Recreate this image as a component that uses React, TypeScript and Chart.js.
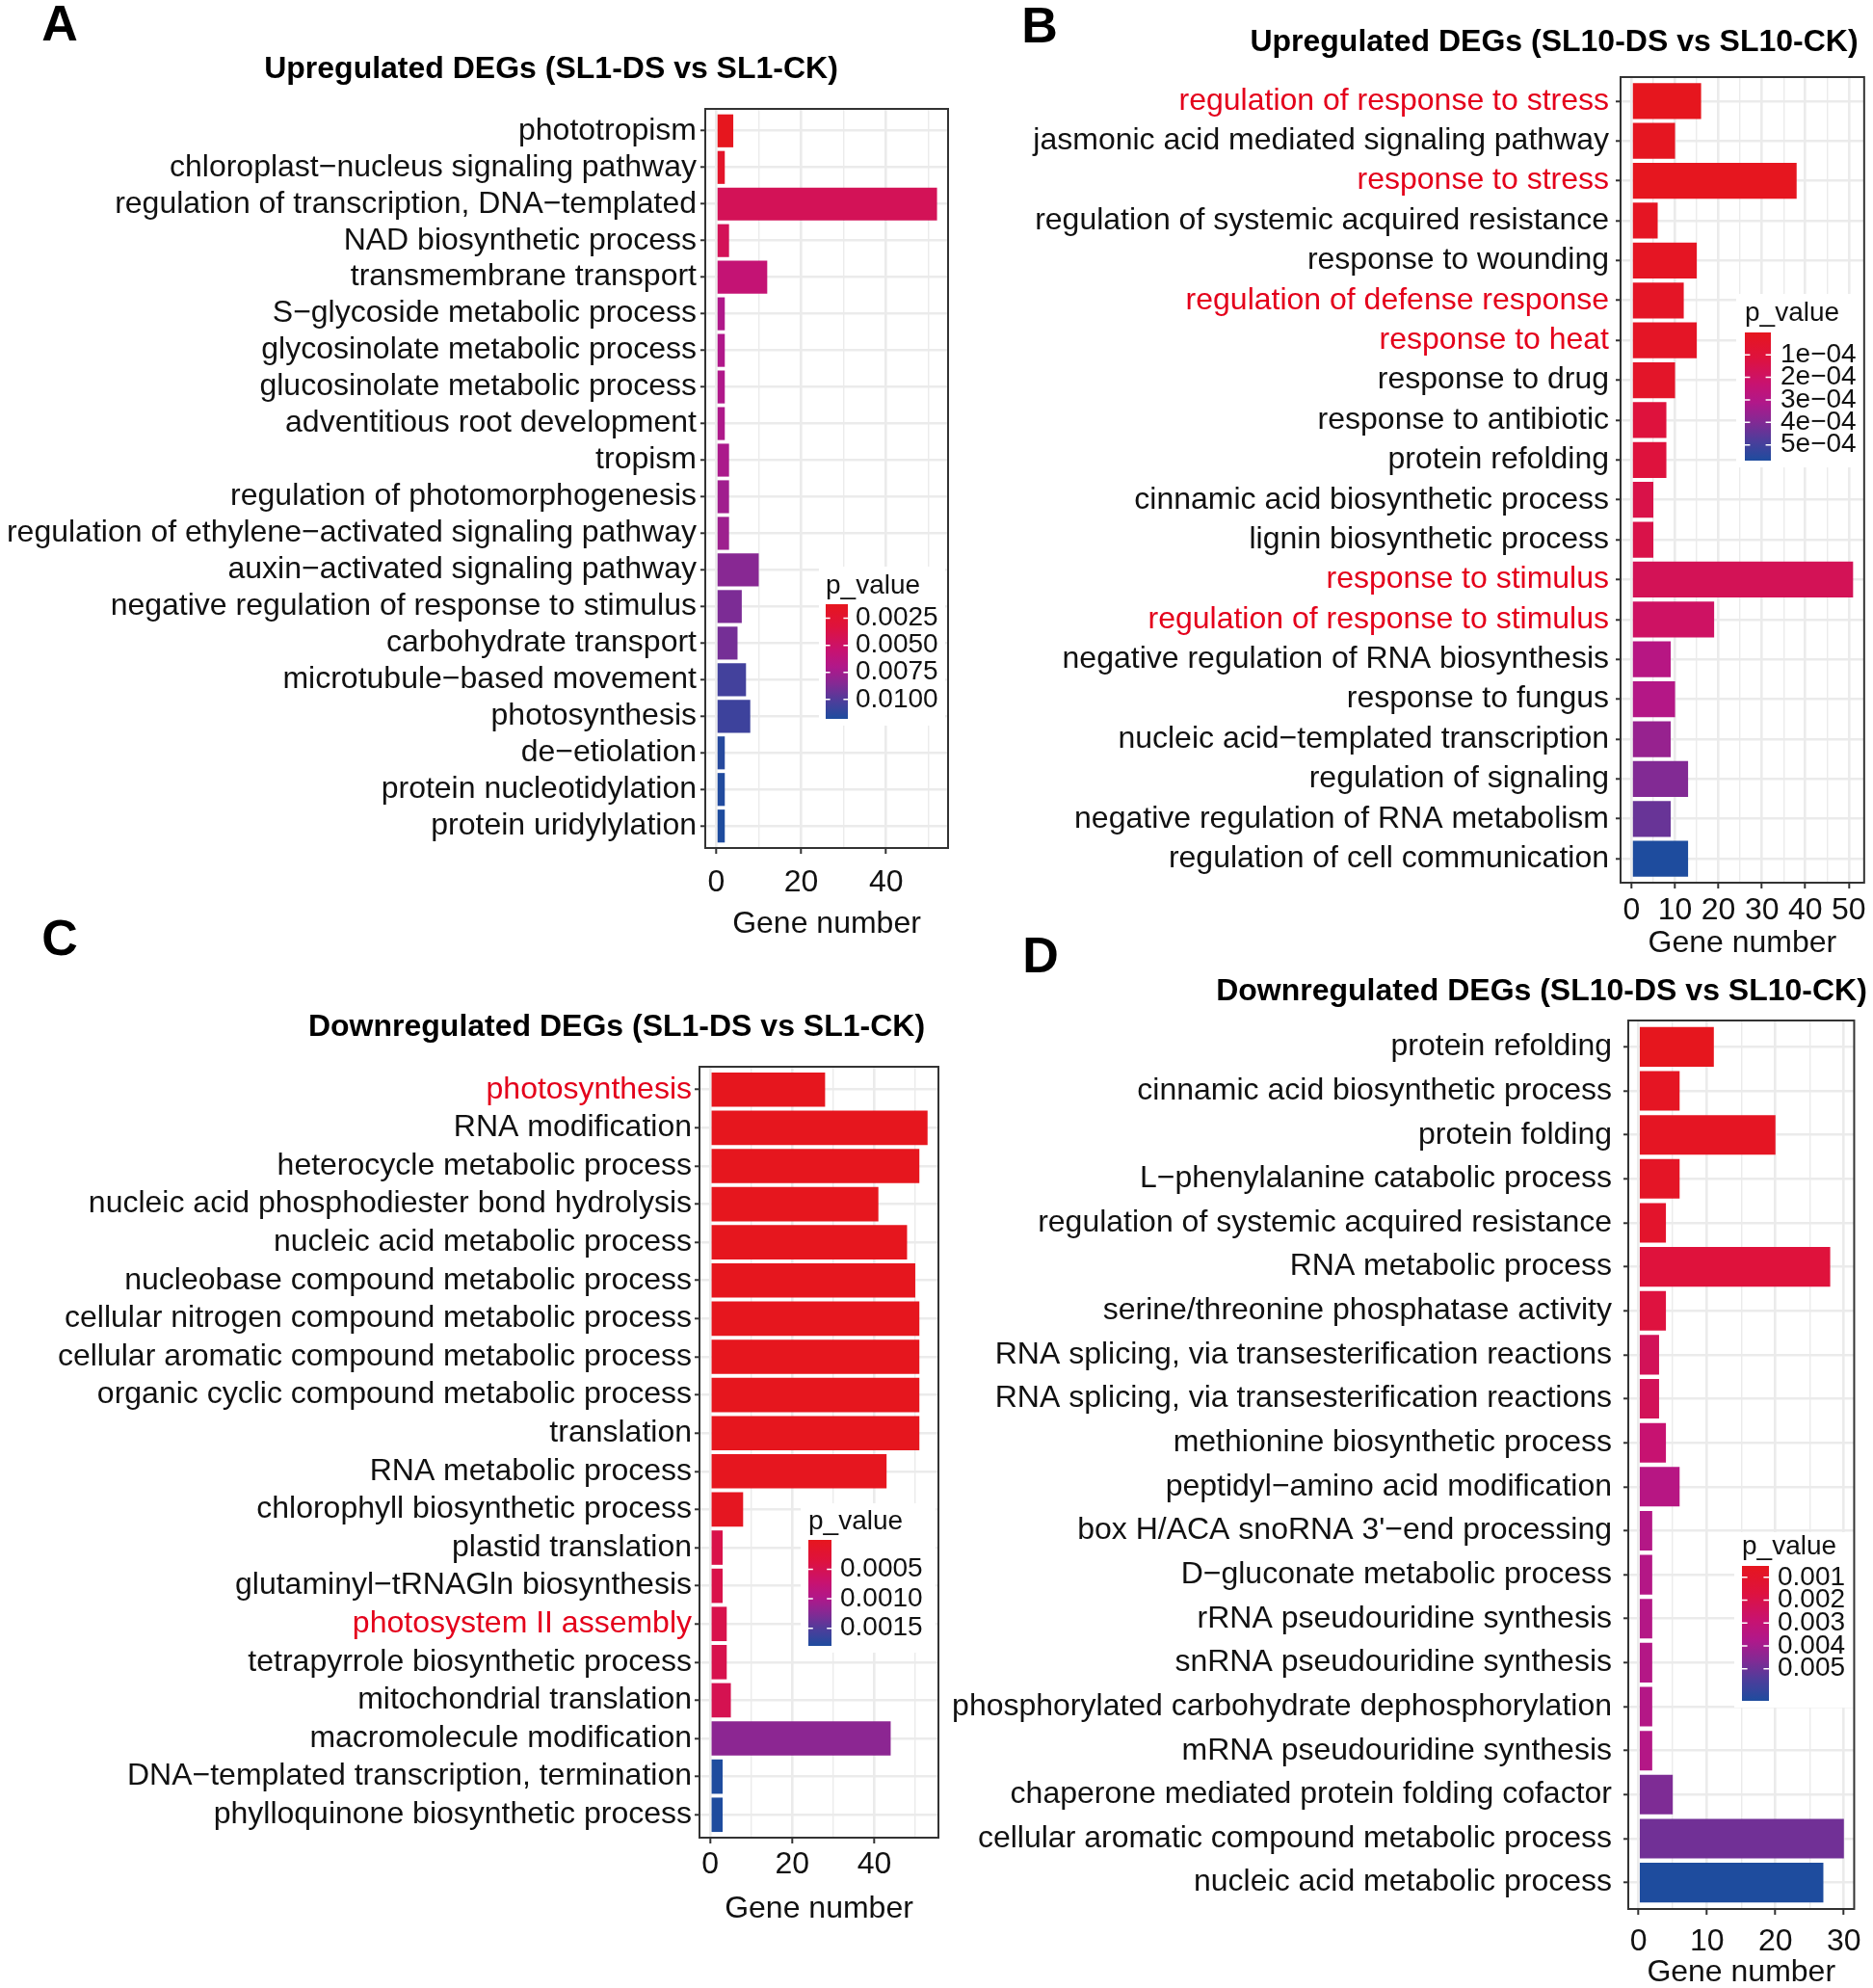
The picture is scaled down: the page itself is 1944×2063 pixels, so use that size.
import React, { useEffect, useRef } from 'react';
import { Chart, registerables } from 'chart.js';

Chart.register(...registerables);

const FONT = "'Liberation Sans', Arial, Helvetica, sans-serif";
const INK = '#111111';
const RED_TEXT = '#E4001B';
const GRID = '#EBEBEB';
const FRAME = '#333333';

// colour ramp used for p_value (low -> high)
const rampStops: [number, number[]][] = [
  [0, [230, 22, 30]],
  [0.2, [222, 18, 62]],
  [0.4, [200, 18, 112]],
  [0.55, [176, 24, 138]],
  [0.7, [130, 42, 148]],
  [0.85, [75, 62, 155]],
  [1, [30, 76, 158]],
];

// ---------------- Panel A ----------------
const titleA = 'Upregulated DEGs (SL1-DS vs SL1-CK)';
const termsA = [
  'phototropism',
  'chloroplast\u2212nucleus signaling pathway',
  'regulation of transcription, DNA\u2212templated',
  'NAD biosynthetic process',
  'transmembrane transport',
  'S\u2212glycoside metabolic process',
  'glycosinolate metabolic process',
  'glucosinolate metabolic process',
  'adventitious root development',
  'tropism',
  'regulation of photomorphogenesis',
  'regulation of ethylene\u2212activated signaling pathway',
  'auxin\u2212activated signaling pathway',
  'negative regulation of response to stimulus',
  'carbohydrate transport',
  'microtubule\u2212based movement',
  'photosynthesis',
  'de\u2212etiolation',
  'protein nucleotidylation',
  'protein uridylylation',
];
const countsA = [4, 2, 52, 3, 12, 2, 2, 2, 2, 3, 3, 3, 10, 6, 5, 7, 8, 2, 2, 2];
const pValuesA = [0.0012, 0.002, 0.0044, 0.0044, 0.0057, 0.007, 0.007, 0.007, 0.0071, 0.0072, 0.0076, 0.0077, 0.0084, 0.0088, 0.009, 0.0105, 0.0107, 0.0115, 0.0117, 0.0118];
const legendTicksA = [0.0025, 0.005, 0.0075, 0.01];
const legendLabelsA = ['0.0025', '0.0050', '0.0075', '0.0100'];
const highlightA: string[] = [];
const xMajorA = 20;
const xMinorA = 10;

// ---------------- Panel B ----------------
const titleB = 'Upregulated DEGs (SL10-DS vs SL10-CK)';
const termsB = [
  'regulation of response to stress',
  'jasmonic acid mediated signaling pathway',
  'response to stress',
  'regulation of systemic acquired resistance',
  'response to wounding',
  'regulation of defense response',
  'response to heat',
  'response to drug',
  'response to antibiotic',
  'protein refolding',
  'cinnamic acid biosynthetic process',
  'lignin biosynthetic process',
  'response to stimulus',
  'regulation of response to stimulus',
  'negative regulation of RNA biosynthesis',
  'response to fungus',
  'nucleic acid\u2212templated transcription',
  'regulation of signaling',
  'negative regulation of RNA metabolism',
  'regulation of cell communication',
];
const countsB = [16, 10, 38, 6, 15, 12, 15, 10, 8, 8, 5, 5, 51, 19, 9, 10, 9, 13, 9, 13];
const pValuesB = [0.000001, 0.00001, 0.000005, 0.00002, 0.00002, 0.00003, 0.00003, 0.00004, 0.00011, 0.00011, 0.00014, 0.00014, 0.00017, 0.0002, 0.00029, 0.0003, 0.00036, 0.0004, 0.00044, 0.00057];
const legendTicksB = [0.0001, 0.0002, 0.0003, 0.0004, 0.0005];
const legendLabelsB = ['1e\u221204', '2e\u221204', '3e\u221204', '4e\u221204', '5e\u221204'];
const highlightB = [
  'regulation of response to stress',
  'response to stress',
  'regulation of defense response',
  'response to heat',
  'response to stimulus',
  'regulation of response to stimulus',
];
const xMajorB = 10;
const xMinorB = 5;

// ---------------- Panel C ----------------
const titleC = 'Downregulated DEGs (SL1-DS vs SL1-CK)';
const termsC = [
  'photosynthesis',
  'RNA modification',
  'heterocycle metabolic process',
  'nucleic acid phosphodiester bond hydrolysis',
  'nucleic acid metabolic process',
  'nucleobase compound metabolic process',
  'cellular nitrogen compound metabolic process',
  'cellular aromatic compound metabolic process',
  'organic cyclic compound metabolic process',
  'translation',
  'RNA metabolic process',
  'chlorophyll biosynthetic process',
  'plastid translation',
  'glutaminyl\u2212tRNAGln biosynthesis',
  'photosystem II assembly',
  'tetrapyrrole biosynthetic process',
  'mitochondrial translation',
  'macromolecule modification',
  'DNA\u2212templated transcription, termination',
  'phylloquinone biosynthetic process',
];
const countsC = [28, 53, 51, 41, 48, 50, 51, 51, 51, 51, 43, 8, 3, 3, 4, 4, 5, 44, 3, 3];
const pValuesC = [0.000001, 0.000001, 0.000002, 0.000003, 0.000003, 0.000004, 0.000004, 0.000004, 0.000005, 0.000005, 0.00001, 0.00004, 0.00045, 0.00045, 0.00046, 0.00047, 0.0005, 0.0012, 0.0018, 0.0018];
const legendTicksC = [0.0005, 0.001, 0.0015];
const legendLabelsC = ['0.0005', '0.0010', '0.0015'];
const highlightC = ['photosynthesis', 'photosystem II assembly'];
const xMajorC = 20;
const xMinorC = 10;

// ---------------- Panel D ----------------
const titleD = 'Downregulated DEGs (SL10-DS vs SL10-CK)';
const termsD = [
  'protein refolding',
  'cinnamic acid biosynthetic process',
  'protein folding',
  'L\u2212phenylalanine catabolic process',
  'regulation of systemic acquired resistance',
  'RNA metabolic process',
  'serine/threonine phosphatase activity',
  'RNA splicing, via transesterification reactions',
  'RNA splicing, via transesterification reactions',
  'methionine biosynthetic process',
  'peptidyl\u2212amino acid modification',
  "box H/ACA snoRNA 3'\u2212end processing",
  'D\u2212gluconate metabolic process',
  'rRNA pseudouridine synthesis',
  'snRNA pseudouridine synthesis',
  'phosphorylated carbohydrate dephosphorylation',
  'mRNA pseudouridine synthesis',
  'chaperone mediated protein folding cofactor',
  'cellular aromatic compound metabolic process',
  'nucleic acid metabolic process',
];
const countsD = [11, 6, 20, 6, 4, 28, 4, 3, 3, 4, 6, 2, 2, 2, 2, 2, 2, 5, 30, 27];
const pValuesD = [0.0005, 0.0007, 0.0007, 0.0008, 0.001, 0.0016, 0.0017, 0.0023, 0.0023, 0.0029, 0.0035, 0.0036, 0.0036, 0.0036, 0.0036, 0.0036, 0.0036, 0.0047, 0.0049, 0.0064];
const legendTicksD = [0.001, 0.002, 0.003, 0.004, 0.005];
const legendLabelsD = ['0.001', '0.002', '0.003', '0.004', '0.005'];
const highlightD: string[] = [];
const xMajorD = 10;
const xMinorD = 5;

function rampColor(t: number): string {
  const u = Math.max(0, Math.min(1, t));
  for (let i = 1; i < rampStops.length; i++) {
    const [t1, c1] = rampStops[i];
    const [t0, c0] = rampStops[i - 1];
    if (u <= t1) {
      const f = (u - t0) / (t1 - t0);
      const c = c0.map((v, k) => Math.round(v + (c1[k] - v) * f));
      return `rgb(${c[0]},${c[1]},${c[2]})`;
    }
  }
  const c = rampStops[rampStops.length - 1][1];
  return `rgb(${c[0]},${c[1]},${c[2]})`;
}

type Layout = {
  canvas: { x: number; y: number; w: number; h: number };
  chart: { l: number; t: number; r: number; b: number };
  yPad: number;
  xPad: number;
  xTitleCenter: number;
  title: [number, number];
  letter: [number, number];
  legend: { bg: [number, number, number, number]; titleX: number; titleY: number; bar: [number, number, number, number]; labelX: number };
};

const layoutA: Layout = {
  canvas: { x: 0, y: 0, w: 990, h: 1000 },
  chart: { l: 732, t: 113, r: 984, b: 880 },
  yPad: 4, xPad: 14, xTitleCenter: 959,
  title: [572, 72], letter: [62, 28],
  legend: { bg: [850, 588, 131, 165], titleX: 857, titleY: 616, bar: [857, 627, 23, 119], labelX: 888 },
};
const layoutB: Layout = {
  canvas: { x: 975, y: 0, w: 969, h: 1000 },
  chart: { l: 1682, t: 80, r: 1938, b: 916 },
  yPad: 7, xPad: 7, xTitleCenter: 979,
  title: [1613, 44], letter: [1079, 30],
  legend: { bg: [1802, 305, 134, 180], titleX: 1811, titleY: 333, bar: [1811, 345, 27, 133], labelX: 1848 },
};
const layoutC: Layout = {
  canvas: { x: 0, y: 940, w: 990, h: 1123 },
  chart: { l: 726, t: 1107, r: 974, b: 1907 },
  yPad: 3, xPad: 6, xTitleCenter: 1981,
  title: [640, 1066], letter: [62, 977],
  legend: { bg: [831, 1560, 140, 155], titleX: 839, titleY: 1587, bar: [839, 1598, 24, 110], labelX: 872 },
};
const layoutD: Layout = {
  canvas: { x: 960, y: 940, w: 984, h: 1123 },
  chart: { l: 1690, t: 1059, r: 1935, b: 1981 },
  yPad: 12, xPad: 12, xTitleCenter: 2047,
  title: [1600, 1029], letter: [1080, 995],
  legend: { bg: [1800, 1590, 133, 182], titleX: 1808, titleY: 1613, bar: [1808, 1625, 28, 140], labelX: 1845 },
};

type PanelProps = {
  letter: string;
  title: string;
  terms: string[];
  counts: number[];
  pvals: number[];
  highlight: string[];
  legendTicks: number[];
  legendLabels: string[];
  major: number;
  minor: number;
  L: Layout;
};

function Panel(props: PanelProps) {
  const ref = useRef<HTMLCanvasElement>(null);
  const { L } = props;

  useEffect(() => {
    if (!ref.current) return;
    const cx = L.canvas.x;
    const cy = L.canvas.y;
    const maxCount = Math.max(...props.counts);
    const pmin = Math.min(...props.pvals);
    const pmax = Math.max(...props.pvals);
    const colors = props.pvals.map((p) => rampColor((p - pmin) / (pmax - pmin)));
    const n = props.terms.length;

    const decor = {
      id: 'decor' + props.letter,
      afterDatasetsDraw(chart: any) {
        const ctx: CanvasRenderingContext2D = chart.ctx;
        const a = chart.chartArea;
        ctx.save();
        // legend
        const lg = L.legend;
        ctx.fillStyle = '#ffffff';
        ctx.fillRect(lg.bg[0] - cx, lg.bg[1] - cy, lg.bg[2], lg.bg[3]);
        ctx.fillStyle = INK;
        ctx.font = `28px ${FONT}`;
        ctx.textAlign = 'left';
        ctx.textBaseline = 'alphabetic';
        ctx.fillText('p_value', lg.titleX - cx, lg.titleY - cy);
        const bx = lg.bar[0] - cx;
        const by = lg.bar[1] - cy;
        const bw = lg.bar[2];
        const bh = lg.bar[3];
        const g = ctx.createLinearGradient(0, by, 0, by + bh);
        rampStops.forEach(([t, c]) => g.addColorStop(t, `rgb(${c[0]},${c[1]},${c[2]})`));
        ctx.fillStyle = g;
        ctx.fillRect(bx, by, bw, bh);
        ctx.strokeStyle = '#ffffff';
        ctx.lineWidth = 1.5;
        ctx.textBaseline = 'middle';
        props.legendTicks.forEach((v, i) => {
          const y = by + ((v - pmin) / (pmax - pmin)) * bh;
          ctx.beginPath();
          ctx.moveTo(bx, y);
          ctx.lineTo(bx + bw * 0.2, y);
          ctx.moveTo(bx + bw * 0.8, y);
          ctx.lineTo(bx + bw, y);
          ctx.stroke();
          ctx.fillStyle = INK;
          ctx.fillText(props.legendLabels[i], lg.labelX - cx, y);
        });
        // panel frame
        ctx.strokeStyle = FRAME;
        ctx.lineWidth = 2;
        ctx.strokeRect(a.left, a.top, a.right - a.left, a.bottom - a.top);
        // title + panel letter
        ctx.fillStyle = '#000000';
        ctx.textAlign = 'center';
        ctx.textBaseline = 'middle';
        ctx.font = `bold 32px ${FONT}`;
        ctx.fillText(props.title, L.title[0] - cx, L.title[1] - cy);
        ctx.font = `bold 52px ${FONT}`;
        ctx.fillText(props.letter, L.letter[0] - cx, L.letter[1] - cy);
        ctx.restore();
      },
    };

    const chart = new Chart(ref.current, {
      type: 'bar',
      data: {
        datasets: [
          {
            data: props.counts.map((c, i) => ({ x: c, y: i + 1 })),
            backgroundColor: colors,
            borderWidth: 0,
            barPercentage: 0.9,
            categoryPercentage: 1,
          } as any,
        ],
      },
      options: {
        indexAxis: 'y',
        responsive: false,
        animation: false,
        devicePixelRatio: 1,
        layout: {
          padding: { left: 0, top: L.chart.t - cy, right: cx + L.canvas.w - L.chart.r, bottom: 0 },
        },
        plugins: {
          legend: { display: false },
          tooltip: { enabled: false },
          title: { display: false },
        },
        scales: {
          x: {
            type: 'linear',
            position: 'bottom',
            min: -0.05 * maxCount,
            max: 1.05 * maxCount,
            offset: false,
            afterBuildTicks: (s: any) => {
              const t: any[] = [];
              for (let v = 0; v <= s.max + 1e-9; v += props.minor) t.push({ value: v });
              s.ticks = t;
            },
            ticks: {
              autoSkip: false,
              maxRotation: 0,
              padding: L.xPad,
              color: INK,
              font: { family: FONT, size: 32, lineHeight: 1 },
              callback: (v: any) => (Math.round(v) % props.major === 0 ? String(Math.round(v)) : ''),
            },
            grid: {
              color: GRID,
              lineWidth: (c: any) => (c.tick && Math.round(c.tick.value) % props.major === 0 ? 2.6 : 1.4),
              tickColor: (c: any) => (c.tick && Math.round(c.tick.value) % props.major === 0 ? FRAME : 'rgba(0,0,0,0)'),
              tickLength: 6,
              tickWidth: 2,
              offset: false,
            },
            border: { display: false },
            title: {
              display: true,
              text: 'Gene number',
              color: INK,
              font: { family: FONT, size: 32, lineHeight: 1 },
              padding: { top: 0, bottom: L.canvas.y + L.canvas.h - L.xTitleCenter - 16 },
            },
            afterFit: (s: any) => {
              s.height = L.canvas.y + L.canvas.h - L.chart.b;
            },
          } as any,
          y: {
            type: 'linear',
            position: 'left',
            reverse: true,
            min: 0.4,
            max: n + 0.6,
            offset: false,
            afterBuildTicks: (s: any) => {
              s.ticks = props.terms.map((_, i) => ({ value: i + 1 }));
            },
            ticks: {
              autoSkip: false,
              padding: L.yPad,
              font: { family: FONT, size: 32 },
              color: (c: any) => (props.highlight.includes(props.terms[c.index]) ? RED_TEXT : INK),
              callback: (v: any) => props.terms[Math.round(v) - 1] ?? '',
            },
            grid: {
              color: GRID,
              lineWidth: 2.6,
              tickColor: FRAME,
              tickLength: 5,
              tickWidth: 2,
              offset: false,
            },
            border: { display: false },
            afterFit: (s: any) => {
              s.width = L.chart.l - cx;
            },
          } as any,
        },
      } as any,
      plugins: [decor],
    });
    return () => chart.destroy();
  }, []);

  return (
    <canvas
      ref={ref}
      width={L.canvas.w}
      height={L.canvas.h}
      style={{ position: 'absolute', left: L.canvas.x, top: L.canvas.y, width: L.canvas.w, height: L.canvas.h }}
    />
  );
}

export default function App() {
  return (
    <div style={{ position: 'absolute', left: 0, top: 0, width: 1944, height: 2063, background: '#ffffff', overflow: 'hidden' }}>
      <Panel letter="A" title={titleA} terms={termsA} counts={countsA} pvals={pValuesA} highlight={highlightA}
        legendTicks={legendTicksA} legendLabels={legendLabelsA} major={xMajorA} minor={xMinorA} L={layoutA} />
      <Panel letter="B" title={titleB} terms={termsB} counts={countsB} pvals={pValuesB} highlight={highlightB}
        legendTicks={legendTicksB} legendLabels={legendLabelsB} major={xMajorB} minor={xMinorB} L={layoutB} />
      <Panel letter="C" title={titleC} terms={termsC} counts={countsC} pvals={pValuesC} highlight={highlightC}
        legendTicks={legendTicksC} legendLabels={legendLabelsC} major={xMajorC} minor={xMinorC} L={layoutC} />
      <Panel letter="D" title={titleD} terms={termsD} counts={countsD} pvals={pValuesD} highlight={highlightD}
        legendTicks={legendTicksD} legendLabels={legendLabelsD} major={xMajorD} minor={xMinorD} L={layoutD} />
    </div>
  );
}
